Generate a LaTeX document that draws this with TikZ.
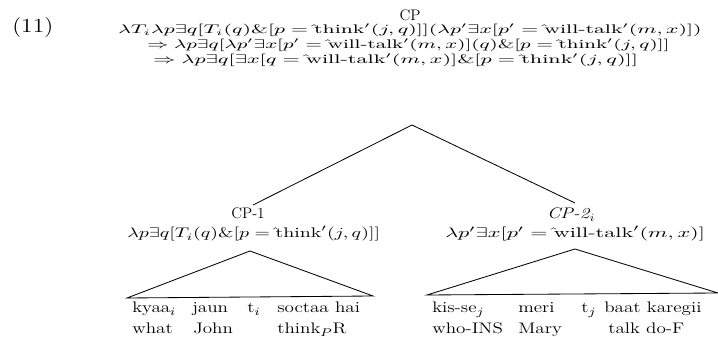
\documentclass[tikz,border=0pt]{standalone}
\usepackage{amsmath}
\usepackage{graphicx}
\newcommand\fitw[2]{\resizebox{#1}{\height}{#2}}
\newcommand\wstr[1]{\scalebox{1.25}[1]{#1}}
\newcommand\up{{\hat{}}}
\begin{document}
\begin{tikzpicture}[x=0.72pt,y=-0.72pt,
  every node/.style={font=\fontsize{11}{13}\selectfont},
  txt/.style={inner sep=0pt, anchor=base},
  lft/.style={inner sep=0pt, anchor=base west},
  frm/.style={inner sep=0pt, anchor=base west, font=\fontsize{9}{11}\selectfont},
  wrd/.style={inner sep=0pt, anchor=base west},
  branch/.style={line width=0.6pt}]
\useasboundingbox (0,0) rectangle (718,337);
\node[lft] (num) at (12,33) {\fitw{29.5pt}{\Large (11)}};
\node[txt] (cp) at (410,21) {CP};
\node[frm] (l1) at (118,34) {\fitw{420pt}{$\lambda T_i\lambda p\exists q[T_i(q)\&[p=\up\text{think}'(j,q)]](\lambda p'\exists x[p'=\up\text{will-talk}'(m,x)])$}};
\node[frm] (l2) at (147,49) {\fitw{376pt}{$\Rightarrow\lambda p\exists q[\lambda p'\exists x[p'=\up\text{will-talk}'(m,x)](q)\&[p=\up\text{think}'(j,q)]]$}};
\node[frm] (l3) at (153,64) {\fitw{349pt}{$\Rightarrow\lambda p\exists q[\exists x[q=\up\text{will-talk}'(m,x)]\&[p=\up\text{think}'(j,q)]]$}};
\coordinate (top) at (412,125);
\node[txt] (cp1) at (248,219) {CP-1};
\node[frm, font=\fontsize{10}{12}\selectfont] (f1) at (127,238) {\fitw{182pt}{$\lambda p\exists q[T_i(q)\&[p=\up\text{think}'(j,q)]]$}};
\node[txt] (cp2) at (571,219) {\wstr{\textit{CP-2}}$_i$};
\node[frm, font=\fontsize{10}{12}\selectfont] (f2) at (445,238) {\fitw{187pt}{$\lambda p'\exists x[p'=\up\text{will-talk}'(m,x)]$}};
\draw[branch] (top) -- (253,205);
\draw[branch] (top) -- (575,203);
% left triangle
\coordinate (a1) at (250,251);
\coordinate (b1l) at (127,298);
\coordinate (b1r) at (373,296);
\draw[branch] (b1l) -- (a1) -- (b1r) -- cycle;
% right triangle
\coordinate (a2) at (575,249);
\coordinate (b2l) at (427,295);
\coordinate (b2r) at (718,293);
\draw[branch] (b2l) -- (a2) -- (b2r) -- cycle;
% words
\node[wrd] (w1) at (132,313) {\wstr{kyaa$_i$}};
\node[wrd] (w2) at (192,313) {\wstr{jaun}};
\node[wrd] (w3) at (247,313) {\wstr{t$_i$}};
\node[wrd] (w4) at (277,313) {\wstr{soctaa hai}};
\node[wrd] (g1) at (132,334) {\wstr{what}};
\node[wrd] (g2) at (193,334) {\wstr{John}};
\node[wrd] (g4) at (277,334) {\wstr{think$_P$R}};
\node[wrd] (w5) at (432,313) {\wstr{kis-se$_j$}};
\node[wrd] (w6) at (518,313) {\wstr{meri}};
\node[wrd] (w7) at (581,313) {\wstr{t$_j$}};
\node[wrd] (w8) at (604,313) {\wstr{baat karegii}};
\node[wrd] (g5) at (432,334) {\wstr{who-INS}};
\node[wrd] (g6) at (518,334) {\wstr{Mary}};
\node[wrd] (g8) at (608,334) {\wstr{talk do-F}};
\end{tikzpicture}
\end{document}
